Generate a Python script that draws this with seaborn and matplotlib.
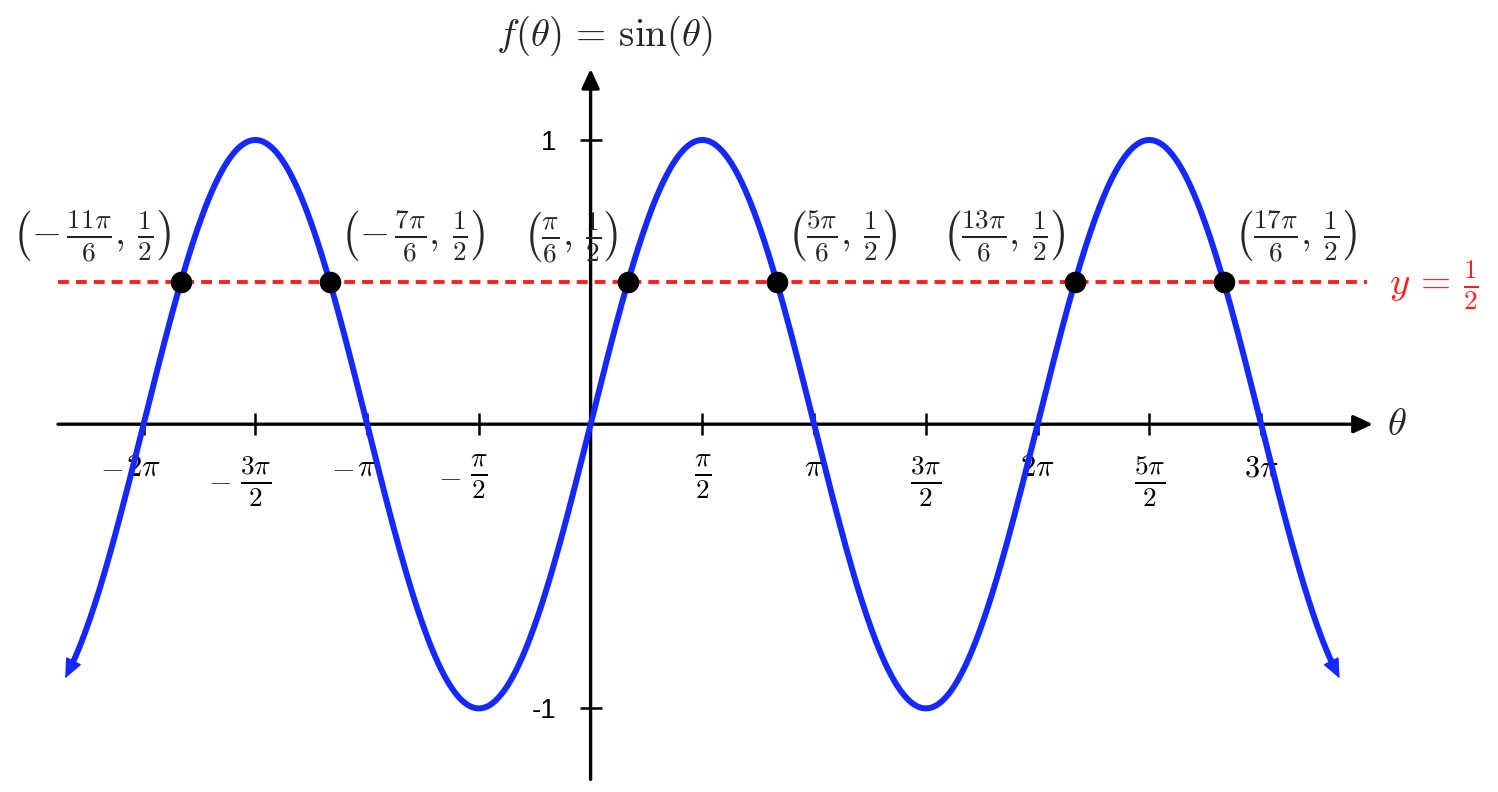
import numpy as np
import seaborn as sns
import matplotlib.pyplot as plt

PI = np.pi

# ---- data ----
theta_min, theta_max = -7 * PI / 3, 10 * PI / 3
theta = np.linspace(theta_min, theta_max, 800)
f_theta = np.sin(theta)

# points where sin(theta) = 1/2, theta = k*pi/6
hit_k = [-11, -7, 1, 5, 13, 17]
hit_y = [0.5, 0.5, 0.5, 0.5, 0.5, 0.5]
hit_labels = [r'$\left(-\,\frac{11\pi}{6},\,\frac{1}{2}\right)$',
              r'$\left(-\,\frac{7\pi}{6},\,\frac{1}{2}\right)$',
              r'$\left(\frac{\pi}{6},\,\frac{1}{2}\right)$',
              r'$\left(\frac{5\pi}{6},\,\frac{1}{2}\right)$',
              r'$\left(\frac{13\pi}{6},\,\frac{1}{2}\right)$',
              r'$\left(\frac{17\pi}{6},\,\frac{1}{2}\right)$']
hit_side = ['left', 'right', 'left', 'right', 'left', 'right']

# x ticks in multiples of pi/2 (minus sign is added separately)
xtick_halfpi = [-4, -3, -2, -1, 1, 2, 3, 4, 5, 6]
xtick_labels = [r'$2\pi$', r'$\frac{3\pi}{2}$', r'$\pi$', r'$\frac{\pi}{2}$',
                r'$\frac{\pi}{2}$', r'$\pi$', r'$\frac{3\pi}{2}$', r'$2\pi$',
                r'$\frac{5\pi}{2}$', r'$3\pi$']
ytick_vals = [-1, 1]
ytick_labels = ['-1', '1']
hline_y = 0.5

BLUE = '#1428ff'
RED = '#ff1f1f'

# ---- layout (pixels of the 1498x792 canvas) ----
W, H = 1498, 792
X0, PIPX = 590.6, 223.5      # origin x, pixels per pi
Y0, UPX = 424.2, 284.2       # origin y, pixels per unit


def px2x(p):
    return (p - X0) / PIPX * PI


def px2y(p):
    return (Y0 - p) / UPX


sns.set_style('white')
plt.rcParams['mathtext.fontset'] = 'cm'
plt.rcParams['font.family'] = ['Liberation Sans', 'DejaVu Sans']

fig = plt.figure(figsize=(W / 100, H / 100), dpi=100)
ax = fig.add_axes([0, 0, 1, 1])
ax.set_xlim(px2x(0), px2x(W))
ax.set_ylim(px2y(H), px2y(0))

for s in ax.spines.values():
    s.set_visible(False)
ax.spines['bottom'].set_position('zero')
ax.spines['left'].set_position('zero')

# axes with arrows
ax.annotate('', xy=(3.5 * PI, 0), xytext=(-2.383 * PI, 0),
            arrowprops=dict(arrowstyle='-|>,head_length=0.58,head_width=0.27',
                            mutation_scale=20, lw=2.4, color='black',
                            shrinkA=0, shrinkB=0), zorder=2.6)
ax.annotate('', xy=(0, 1.25), xytext=(0, -1.25),
            arrowprops=dict(arrowstyle='-|>,head_length=0.58,head_width=0.27',
                            mutation_scale=20, lw=2.4, color='black',
                            shrinkA=0, shrinkB=0), zorder=2.6)

# ticks
ax.set_xticks([k * PI / 2 for k in xtick_halfpi], labels=xtick_labels)
ax.set_yticks(ytick_vals, labels=ytick_labels)
ax.tick_params(axis='x', bottom=True, direction='inout', length=15.8, width=1.8,
               pad=13, labelsize=22, color='black', labelcolor='black')
ax.tick_params(axis='y', left=True, direction='inout', length=15.8, width=1.8,
               pad=16.5, labelsize=20, color='black', labelcolor='black')

for lab, k in zip(ax.get_xticklabels(), xtick_halfpi):
    is_frac = 'frac' in lab.get_text()
    if is_frac:
        lab.set_fontsize(28)
    if k < 0:
        gap = 6.5 if is_frac else 2.0
        ax.annotate(r'$-$', xy=(0, 0.5), xycoords=lab, xytext=(-gap, 0),
                    textcoords='offset points', ha='right', va='center',
                    fontsize=22)

# y = 1/2 line
ax.hlines(hline_y, -2.383 * PI, 3.473 * PI, colors=RED, lw=2.8,
          linestyles=(0, (2.8, 1.8)), zorder=3)

# sine curve
sns.lineplot(x=theta, y=f_theta, ax=ax, color=BLUE, lw=4.3, zorder=3.5)

# arrow heads at the ends of the curve
for i, j, sgn in [(0, 1, -1), (-1, -2, 1)]:
    slope = (f_theta[i] - f_theta[j]) / (theta[i] - theta[j])
    dx, dy = sgn * PIPX / PI, sgn * slope * UPX
    n = np.hypot(dx, dy)
    tip = (theta[i] + 9 * dx / n / (PIPX / PI), f_theta[i] + 9 * dy / n / UPX)
    ax.annotate('', xy=tip, xytext=(theta[i], f_theta[i]),
                arrowprops=dict(arrowstyle='-|>,head_length=0.62,head_width=0.27',
                                mutation_scale=20, lw=1, color=BLUE,
                                shrinkA=0, shrinkB=0), zorder=3.6)

# intersection points
hit_x = [k * PI / 6 for k in hit_k]
sns.scatterplot(x=hit_x, y=hit_y, ax=ax, s=207, color='black',
                edgecolor='black', zorder=4, legend=False)
for x, y, lab, side in zip(hit_x, hit_y, hit_labels, hit_side):
    dx = -7 if side == 'left' else 7
    ax.annotate(lab, xy=(x, y), xytext=(dx, 12), textcoords='offset points',
                ha='right' if side == 'left' else 'left', va='bottom',
                fontsize=28)

# labels
ax.text(px2x(604), px2y(36), r'$f(\theta)\,=\,\sin(\theta)$', ha='center',
        va='center', fontsize=28)
ax.text(px2x(1387), px2y(425), r'$\theta$', ha='left', va='center', fontsize=28)
ax.text(px2x(1389), px2y(285), r'$y\,=\,\frac{1}{2}$', ha='left', va='center',
        fontsize=28, color=RED)

fig.savefig('out.png', dpi=100)
